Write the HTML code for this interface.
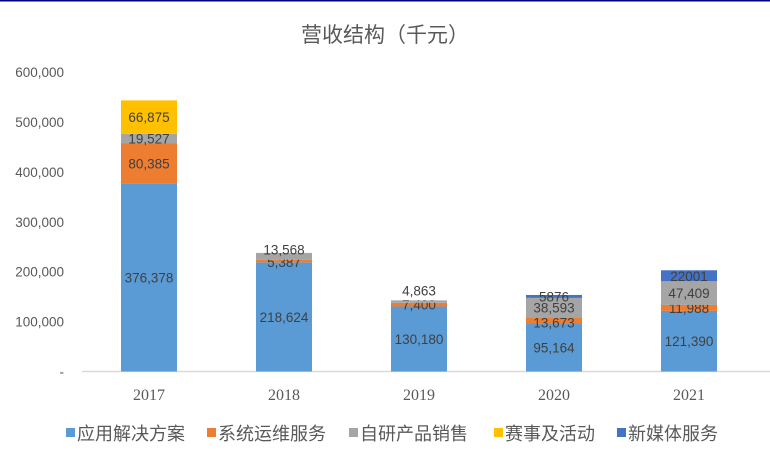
<!DOCTYPE html>
<html><head><meta charset="utf-8"><style>
body{margin:0;background:#fff;}
svg{display:block;font-family:"Liberation Sans","Noto Sans CJK SC",sans-serif;}
</style></head><body>
<svg id="c" width="770" height="454">
<rect x="0" y="0" width="770" height="1.5" fill="#000080"/>
<text x="385" y="42" text-anchor="middle" font-size="21" fill="#595959">营收结构（千元）</text>
<line x1="82" y1="371.5" x2="770" y2="371.5" stroke="#d9d9d9" stroke-width="1.5"/>
<g id="yt"></g><g id="bars"></g><g id="xl"></g><g id="lg"></g>
</svg>
<script>
const categories=["2017","2018","2019","2020","2021"];
const seriesNames=["应用解决方案","系统运维服务","自研产品销售","赛事及活动","新媒体服务"];
const appSolutions=[376378,218624,130180,95164,121390];
const opsService=[80385,5387,7400,13673,11988];
const productSales=[19527,13568,4863,38593,47409];
const events=[66875,0,0,0,0];
const newMedia=[0,0,0,5876,22001];
const labelsShown=[["376,378","218,624","130,180","95,164","121,390"],["80,385","5,387","7,400","13,673","11,988"],["19,527","13,568","4,863","38,593","47,409"],["66,875","","","",""],["","","","5876","22001"]];
const yTicks=[0,100000,200000,300000,400000,500000,600000];
const colors=["#5B9BD5","#ED7D31","#A5A5A5","#FFC000","#4472C4"];
const series=[appSolutions,opsService,productSales,events,newMedia];
const labelNudge=[[0,0,0,0,0],[0,1,0,2,0],[0,-7,-11,0,0],[0,0,0,0,0],[0,0,0,0,0]];
const NS="http://www.w3.org/2000/svg";
const y0=371.5,pxPer=299.5/600000;
const y=v=>y0-v*pxPer;
const x=i=>149+i*135;
function mk(t,a,p){const e=document.createElementNS(NS,t);for(const k in a)e.setAttribute(k,a[k]);p.appendChild(e);return e;}
const yt=document.getElementById('yt');
yTicks.forEach(v=>{const t=mk('text',{x:64,y:y(v)+5,'text-anchor':'end','font-size':13.5,fill:'#595959'},yt);
t.textContent=v===0?'-':v.toLocaleString('en-US');

});
const bars=document.getElementById('bars');
categories.forEach((c,i)=>{let acc=0;
series.forEach((s,k)=>{const v=s[i];if(!v)return;
const r=mk('rect',{x:x(i)-28,y:y(acc+v),width:56,height:v*pxPer,fill:colors[k]},bars);


const lab=labelsShown[k][i];
if(lab){const ty=y(acc+v/2)+5+labelNudge[k][i];const t=mk('text',{x:x(i),y:ty,'text-anchor':'middle','font-size':13.5,fill:'#404040'},bars);t.textContent=lab;

}
acc+=v;});
const t=mk('text',{x:x(i),y:400,'text-anchor':'middle','font-size':16,fill:'#595959','font-family':'Liberation Serif,serif'},document.getElementById('xl'));
t.textContent=c;

});
const lg=document.getElementById('lg');
const lx=[66,207,349,494,617];
seriesNames.forEach((n,k)=>{const g=mk('g',{},lg);


mk('rect',{x:lx[k],y:428,width:9,height:9,fill:colors[k]},g);
const t=mk('text',{x:lx[k]+11,y:440,'font-size':18,fill:'#595959'},g);t.textContent=n;});
</script>
</body></html>
